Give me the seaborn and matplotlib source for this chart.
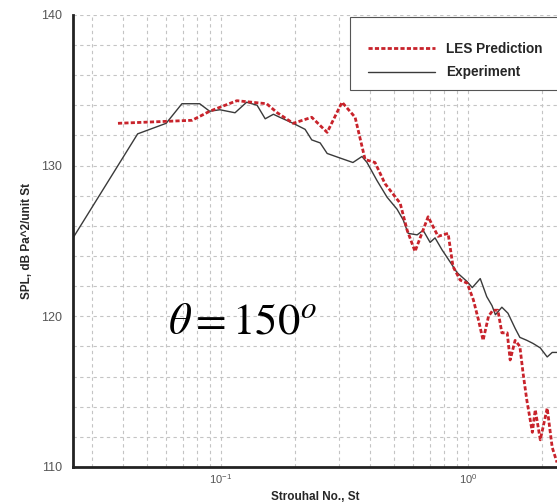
import matplotlib
matplotlib.use("Agg")
import matplotlib.pyplot as plt
from matplotlib.patches import Rectangle
from matplotlib.ticker import FixedLocator, NullFormatter, MultipleLocator
import pandas as pd
import seaborn as sns

# Experiment spectrum (Strouhal number, SPL)
exp_st = [0.0252, 0.046, 0.060, 0.0695, 0.082, 0.090, 0.099, 0.114, 0.127, 0.140,
          0.151, 0.163, 0.173, 0.196, 0.219, 0.233, 0.252, 0.269, 0.303, 0.342,
          0.372, 0.390, 0.428, 0.470, 0.516, 0.546, 0.572, 0.622, 0.658, 0.702,
          0.735, 0.785, 0.846, 0.902, 0.991, 1.04, 1.12, 1.19, 1.25, 1.29,
          1.37, 1.45, 1.55, 1.62, 1.73, 1.83, 1.96, 2.09, 2.19, 2.29]
exp_spl = [125.2, 132.1, 132.8, 134.1, 134.1, 133.6, 133.7, 133.5, 134.2, 134.0,
           133.1, 133.4, 133.2, 132.8, 132.4, 131.7, 131.5, 130.8, 130.5, 130.2,
           130.6, 130.2, 129.0, 127.9, 127.1, 126.4, 125.5, 125.4, 125.7, 124.9,
           125.2, 124.4, 123.6, 122.9, 122.3, 121.9, 122.5, 121.3, 120.7, 120.1,
           120.6, 120.2, 119.2, 118.6, 118.4, 118.2, 117.9, 117.3, 117.6, 117.6]

# LES prediction
les_st = [0.0383, 0.0764, 0.090, 0.116, 0.153, 0.169, 0.196, 0.233, 0.269, 0.309,
          0.349, 0.383, 0.420, 0.461, 0.531, 0.567, 0.610, 0.689, 0.756, 0.830,
          0.869, 0.929, 0.991, 1.05, 1.10, 1.15, 1.21, 1.26, 1.32, 1.37,
          1.44, 1.48, 1.55, 1.62, 1.67, 1.73, 1.82, 1.87, 1.96, 2.09,
          2.19, 2.29]
les_spl = [132.8, 133.0, 133.6, 134.3, 134.1, 133.5, 132.8, 133.2, 132.2, 134.2,
           133.2, 130.4, 130.2, 128.8, 127.5, 125.7, 124.3, 126.6, 125.3, 125.5,
           123.3, 122.4, 122.2, 121.1, 119.8, 118.4, 120.0, 120.4, 120.4, 118.9,
           118.9, 117.1, 118.4, 118.0, 116.2, 114.4, 112.3, 113.8, 111.8, 113.9,
           111.3, 110.3]

exp_df = pd.DataFrame({"St": exp_st, "SPL": exp_spl})
les_df = pd.DataFrame({"St": les_st, "SPL": les_spl})

sns.set_style("white")
plt.rcParams['font.family'] = ['Liberation Sans', 'DejaVu Sans']
plt.rcParams['mathtext.fontset'] = 'custom'
plt.rcParams['mathtext.rm'] = 'Liberation Sans'

fig = plt.figure(figsize=(5.57, 5.03), dpi=100)
ax = fig.add_axes([0.131, 0.0716, 0.869, 0.899])

sns.lineplot(data=exp_df, x="St", y="SPL", ax=ax, color="#3a3a3a", lw=1.0,
             estimator=None, label="Experiment")
sns.lineplot(data=les_df, x="St", y="SPL", ax=ax, color="#c8232b", lw=2.0,
             linestyle=(0, (1.5, 0.8)), estimator=None, label="LES Prediction")

ax.set_xscale("log")
ax.set_xlim(0.02518, 2.29)
ax.set_ylim(110, 140)

# ticks and grid
ax.xaxis.set_major_locator(FixedLocator([0.1, 1.0]))
ax.set_xticklabels([r"10$^{\mathrm{-1}}$", r"10$^{\mathrm{0}}$"])
ax.xaxis.set_minor_locator(FixedLocator([0.03, 0.04, 0.05, 0.06, 0.07, 0.08, 0.09,
                                         0.2, 0.3, 0.4, 0.5, 0.6, 0.7, 0.8, 0.9, 2.0]))
ax.xaxis.set_minor_formatter(NullFormatter())
ax.set_yticks([110, 120, 130, 140])
ax.yaxis.set_minor_locator(MultipleLocator(2))
ax.tick_params(axis="x", which="major", direction="in", length=7, width=2,
               labelsize=8, labelcolor="#555555", pad=4)
ax.tick_params(axis="y", which="major", direction="inout", length=10, width=2,
               labelsize=9, labelcolor="#555555", pad=3)
ax.tick_params(which="minor", length=0)
ax.grid(True, which="both", color="#c4c4c4", linestyle=(0, (3, 3)), lw=0.8)

for side in ["top", "right"]:
    ax.spines[side].set_visible(False)
for side in ["left", "bottom"]:
    ax.spines[side].set_linewidth(2.0)
    ax.spines[side].set_color("#222222")

ax.set_xlabel("Strouhal No., St", fontsize=8.5, fontweight="bold", labelpad=3)
ax.set_ylabel("SPL, dB Pa^2/unit St", fontsize=8.5, fontweight="bold", labelpad=6)

ax.text(0.196, 0.296, r"$\theta = 150^{o}$", transform=ax.transAxes,
        fontsize=32, ha="left", va="baseline", color="black",
        math_fontfamily="stix")

# legend box (runs off the right edge like the original)
box = Rectangle((0.572, 0.834), 0.46, 0.162, transform=ax.transAxes,
                facecolor="white", edgecolor="#555555", lw=0.8,
                clip_on=False, zorder=4)
ax.add_patch(box)

handles, labels = ax.get_legend_handles_labels()
leg = ax.legend(handles[::-1], labels[::-1], loc="upper left",
                bbox_to_anchor=(0.610, 0.940), borderaxespad=0, borderpad=0,
                frameon=False, handlelength=4.9, handletextpad=0.8,
                labelspacing=0.7, prop={"size": 9.8, "weight": "bold"})
leg.set_zorder(5)

plt.savefig("out.png", dpi=100)
